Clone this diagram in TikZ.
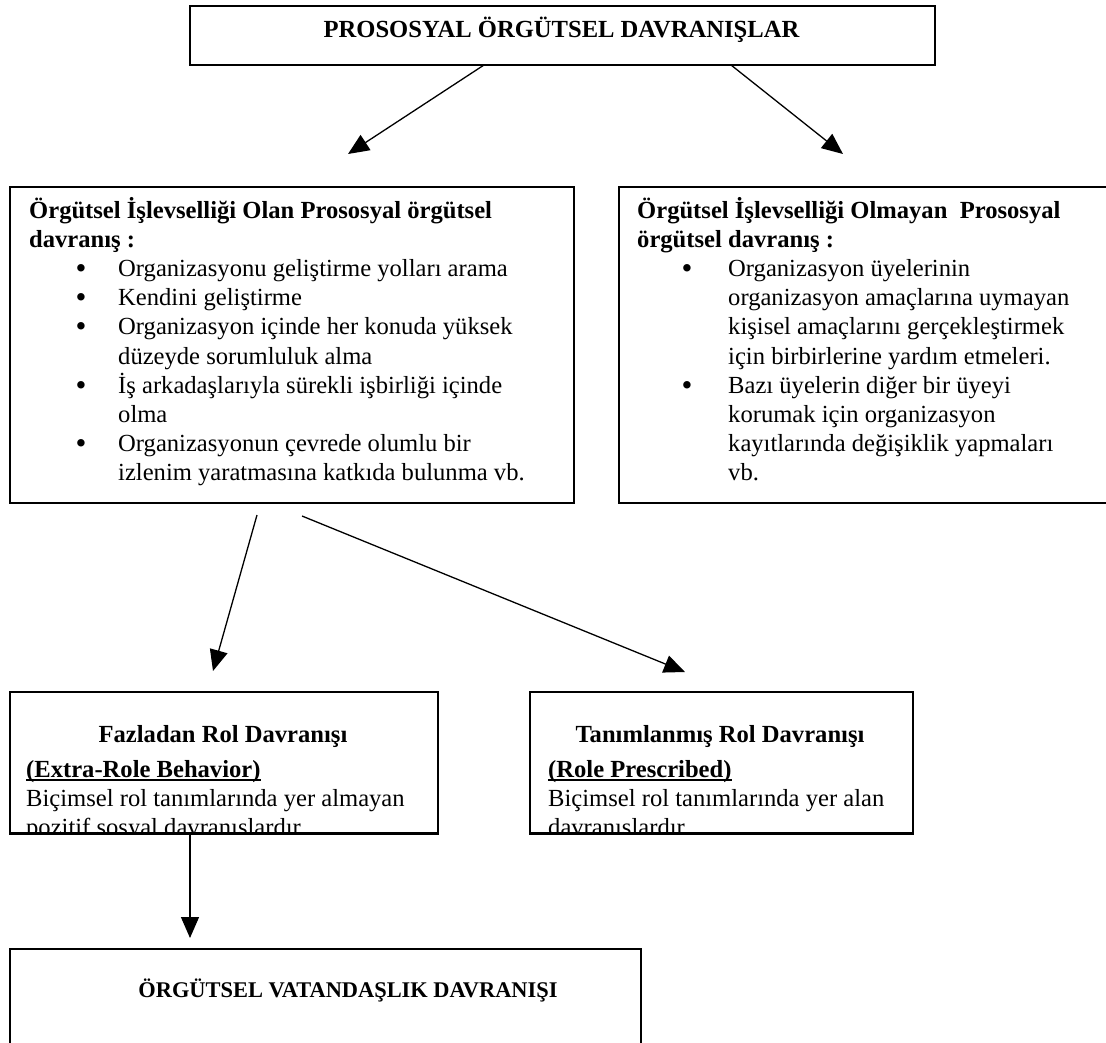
\documentclass[tikz,border=0pt]{standalone}
\usepackage{fontspec}
\setmainfont{Liberation Serif}
\usetikzlibrary{arrows.meta}
\newcommand\bodyfont{\fontsize{24.6}{29.2}\selectfont}
\newcommand\myul[1]{\setbox0\hbox{#1}\rlap{\rule[-3.6pt]{\wd0}{1.8pt}}\box0}
\begin{document}
\begin{tikzpicture}[x=1pt,y=-1pt,
  box/.style={draw,line width=2pt,inner sep=0pt,anchor=north west},
  arr/.style={line width=1.3pt,-{Triangle[length=21pt,width=18pt]}},
  txt/.style={anchor=base west,inner sep=0pt,font=\bodyfont},
  btxt/.style={anchor=base west,inner sep=0pt,font=\bodyfont\bfseries},
  ctitle/.style={anchor=base,inner sep=0pt,font=\bodyfont\bfseries},
  bul/.style={anchor=base,inner sep=0pt,yshift=-2pt,font=\fontsize{31}{31}\selectfont}]
\useasboundingbox (0,0) rectangle (1106,1042);

% boxes
\node[box,minimum width=745pt,minimum height=59pt] (topbox) at (189,5) {};
\node[box,minimum width=564pt,minimum height=316pt] (lbox) at (9,186) {};
\node[box,minimum width=500pt,minimum height=316pt] (rbox) at (618,186) {};
\node[box,minimum width=428pt,minimum height=141pt] (fbox) at (9,691) {};
\node[box,minimum width=383pt,minimum height=141pt] (tbox) at (529,691) {};
\node[box,minimum width=631pt,minimum height=110pt] (vbox) at (9,948) {};

% top title
\node[ctitle] (toptxt) at (561.5,37) {PROSOSYAL ÖRGÜTSEL DAVRANIŞLAR};

% left box text
\node[btxt] (l1) at (29,218) {Örgütsel İşlevselliği Olan Prososyal örgütsel};
\node[btxt] (l2) at (29,247.2) {davranış :};
\node[bul] (lb1) at (81,276.4) {•};
\node[txt] (l3) at (118,276.4) {Organizasyonu geliştirme yolları arama};
\node[bul] (lb2) at (81,305.6) {•};
\node[txt] (l4) at (118,305.6) {Kendini geliştirme};
\node[bul] (lb3) at (81,334.8) {•};
\node[txt] (l5) at (118,334.8) {Organizasyon içinde her konuda yüksek};
\node[txt] (l6) at (118,364) {düzeyde sorumluluk alma};
\node[bul] (lb4) at (81,393.2) {•};
\node[txt] (l7) at (118,393.2) {İş arkadaşlarıyla sürekli işbirliği içinde};
\node[txt] (l8) at (118,422.4) {olma};
\node[bul] (lb5) at (81,451.6) {•};
\node[txt] (l9) at (118,451.6) {Organizasyonun çevrede olumlu bir};
\node[txt] (l10) at (118,480.8) {izlenim yaratmasına katkıda bulunma vb.};

% right box text
\node[btxt] (r1) at (637,218) {Örgütsel İşlevselliği Olmayan\ \ Prososyal};
\node[btxt] (r2) at (637,247.2) {örgütsel davranış :};
\node[bul] (rb1) at (687,276.4) {•};
\node[txt] (r3) at (728,276.4) {Organizasyon üyelerinin};
\node[txt] (r4) at (728,305.6) {organizasyon amaçlarına uymayan};
\node[txt] (r5) at (728,334.8) {kişisel amaçlarını gerçekleştirmek};
\node[txt] (r6) at (728,364) {için birbirlerine yardım etmeleri.};
\node[bul] (rb2) at (687,393.2) {•};
\node[txt] (r7) at (728,393.2) {Bazı üyelerin diğer bir üyeyi};
\node[txt] (r8) at (728,422.4) {korumak için organizasyon};
\node[txt] (r9) at (728,451.6) {kayıtlarında değişiklik yapmaları};
\node[txt] (r10) at (728,480.8) {vb.};

% lower boxes text (clipped at box bottom)
\begin{scope}
\clip (fbox.north west) rectangle (fbox.south east);
\node[ctitle] (f1) at (223,742) {Fazladan Rol Davranışı};
\node[btxt] (f2) at (26,777) {\myul{(Extra-Role Behavior)}};
\node[txt] (f3) at (26,806) {Biçimsel rol tanımlarında yer almayan};
\node[txt] (f4) at (26,835) {pozitif sosyal davranışlardır.};
\end{scope}
\begin{scope}
\clip (tbox.north west) rectangle (tbox.south east);
\node[ctitle] (t1) at (720,742) {Tanımlanmış Rol Davranışı};
\node[btxt] (t2) at (548,777) {\myul{(Role Prescribed)}};
\node[txt] (t3) at (548,806) {Biçimsel rol tanımlarında yer alan};
\node[txt] (t4) at (548,835) {davranışlardır.};
\end{scope}
\draw[line width=2pt] (fbox.south west) -- (fbox.south east);
\draw[line width=2pt] (tbox.south west) -- (tbox.south east);

\node[ctitle,font=\fontsize{22.4}{26}\selectfont\bfseries] (v1) at (348,997) {ÖRGÜTSEL VATANDAŞLIK DAVRANIŞI};

% connectors
\coordinate (a1s) at (484,65);  \coordinate (a1e) at (348,154);
\coordinate (a2s) at (731,65);  \coordinate (a2e) at (843,154);
\coordinate (a3s) at (257,515); \coordinate (a3e) at (213,671);
\coordinate (a4s) at (302,516); \coordinate (a4e) at (685,672);
\coordinate (a5s) at (190,832); \coordinate (a5e) at (190,938);
\draw[arr] (a1s) -- (a1e);
\draw[arr] (a2s) -- (a2e);
\draw[arr] (a3s) -- (a3e);
\draw[arr] (a4s) -- (a4e);
\draw[arr] (a5s) -- (a5e);
\end{tikzpicture}
\end{document}
